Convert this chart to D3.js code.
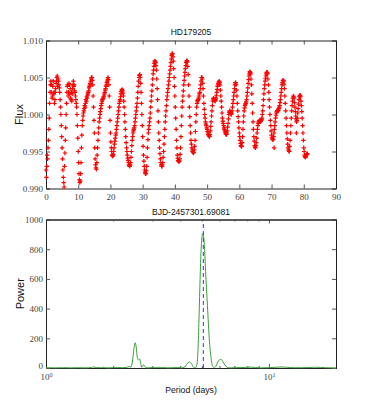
<!DOCTYPE html>
<html lang="en">
<head>
<meta charset="utf-8">
<title>HD179205</title>
<script src="https://d3js.org/d3.v7.min.js"></script>
<style>
    body { margin: 0; background: #fff; }
    .tick text { font-family: "Liberation Serif", serif; font-size: 9px; fill: #444; }
    .lbl { font-family: "Liberation Sans", sans-serif; fill: #111; }
</style>
</head>
<body>
<script>
// light curve: one row per day, a sample every 0.125 d
const fluxByDay = [
    [0.9925, 0.9915, 0.9930, 0.9945, 0.9940, 0.9955, 0.9965, 0.9980],
    [0.9995, 1.0015, 1.0030, 1.0040, 1.0045, 1.0030, 1.0040, 1.0022],
    [1.0025, 1.0038, 1.0045, 1.0028, 1.0030, 1.0015, 1.0020, 1.0030],
    [1.0035, 1.0042, 1.0045, 1.0050, 1.0052, 1.0038, 1.0048, 1.0045],
    [1.0040, 1.0036, 1.0030, 1.0020, 1.0010, 1.0000, 0.9985, 0.9970],
    [0.9955, 0.9940, 0.9925, 0.9915, 0.9908, 0.9902, 0.9930, 0.9948],
    [0.9965, 0.9982, 1.0000, 1.0015, 1.0030, 1.0038, 1.0040, 1.0025],
    [1.0030, 1.0042, 1.0040, 1.0028, 1.0035, 1.0022, 1.0020, 1.0030],
    [1.0018, 1.0028, 1.0035, 1.0040, 1.0045, 1.0038, 1.0040, 1.0032],
    [1.0030, 1.0025, 1.0020, 1.0015, 1.0010, 1.0000, 0.9985, 0.9968],
    [0.9950, 0.9935, 0.9920, 0.9912, 0.9908, 0.9910, 0.9920, 0.9935],
    [0.9955, 0.9972, 0.9985, 0.9992, 0.9998, 1.0002, 1.0005, 1.0008],
    [1.0012, 1.0010, 1.0015, 1.0020, 1.0018, 1.0024, 1.0022, 1.0026],
    [1.0028, 1.0030, 1.0032, 1.0036, 1.0038, 1.0040, 1.0042, 1.0045],
    [1.0048, 1.0050, 1.0050, 1.0046, 1.0040, 1.0025, 1.0010, 0.9992],
    [0.9975, 0.9955, 0.9940, 0.9932, 0.9928, 0.9926, 0.9935, 0.9945],
    [0.9955, 0.9965, 0.9975, 0.9982, 0.9990, 0.9995, 1.0000, 1.0004],
    [1.0008, 1.0012, 1.0015, 1.0018, 1.0020, 1.0021, 1.0022, 1.0024],
    [1.0025, 1.0028, 1.0030, 1.0033, 1.0035, 1.0038, 1.0040, 1.0043],
    [1.0045, 1.0048, 1.0050, 1.0047, 1.0040, 1.0025, 1.0010, 0.9992],
    [0.9975, 0.9963, 0.9955, 0.9950, 0.9945, 0.9944, 0.9944, 0.9946],
    [0.9950, 0.9955, 0.9960, 0.9964, 0.9968, 0.9972, 0.9975, 0.9980],
    [0.9985, 0.9990, 0.9995, 1.0000, 1.0005, 1.0010, 1.0015, 1.0018],
    [1.0020, 1.0024, 1.0028, 1.0031, 1.0033, 1.0034, 1.0032, 1.0029],
    [1.0025, 1.0018, 1.0010, 1.0000, 0.9990, 0.9980, 0.9970, 0.9962],
    [0.9955, 0.9950, 0.9945, 0.9941, 0.9938, 0.9935, 0.9932, 0.9931],
    [0.9930, 0.9932, 0.9935, 0.9942, 0.9950, 0.9958, 0.9965, 0.9970],
    [0.9975, 0.9978, 0.9980, 0.9982, 0.9985, 0.9990, 0.9995, 1.0000],
    [1.0005, 1.0010, 1.0015, 1.0022, 1.0030, 1.0038, 1.0045, 1.0050],
    [1.0053, 1.0054, 1.0050, 1.0042, 1.0030, 1.0015, 1.0000, 0.9985],
    [0.9970, 0.9957, 0.9945, 0.9937, 0.9930, 0.9925, 0.9922, 0.9920],
    [0.9920, 0.9924, 0.9930, 0.9942, 0.9955, 0.9966, 0.9975, 0.9980],
    [0.9985, 0.9990, 0.9995, 1.0002, 1.0010, 1.0018, 1.0025, 1.0032],
    [1.0040, 1.0048, 1.0055, 1.0060, 1.0065, 1.0069, 1.0072, 1.0072],
    [1.0070, 1.0066, 1.0060, 1.0048, 1.0035, 1.0020, 1.0005, 0.9990],
    [0.9975, 0.9965, 0.9955, 0.9947, 0.9940, 0.9935, 0.9932, 0.9930],
    [0.9930, 0.9932, 0.9935, 0.9942, 0.9950, 0.9960, 0.9970, 0.9980],
    [0.9990, 0.9998, 1.0005, 1.0012, 1.0020, 1.0025, 1.0030, 1.0035],
    [1.0040, 1.0045, 1.0050, 1.0055, 1.0060, 1.0065, 1.0070, 1.0075],
    [1.0080, 1.0082, 1.0082, 1.0078, 1.0072, 1.0062, 1.0050, 1.0038],
    [1.0025, 1.0010, 0.9995, 0.9980, 0.9965, 0.9955, 0.9945, 0.9941],
    [0.9938, 0.9937, 0.9936, 0.9937, 0.9940, 0.9946, 0.9955, 0.9970],
    [0.9985, 0.9998, 1.0010, 1.0018, 1.0025, 1.0032, 1.0040, 1.0046],
    [1.0052, 1.0057, 1.0062, 1.0066, 1.0070, 1.0072, 1.0073, 1.0071],
    [1.0065, 1.0054, 1.0040, 1.0025, 1.0010, 0.9997, 0.9985, 0.9975],
    [0.9965, 0.9960, 0.9955, 0.9952, 0.9950, 0.9949, 0.9948, 0.9949],
    [0.9952, 0.9957, 0.9965, 0.9977, 0.9990, 1.0000, 1.0010, 1.0015],
    [1.0018, 1.0019, 1.0020, 1.0022, 1.0025, 1.0028, 1.0030, 1.0035],
    [1.0040, 1.0045, 1.0050, 1.0050, 1.0048, 1.0042, 1.0035, 1.0025],
    [1.0015, 1.0007, 1.0000, 0.9995, 0.9990, 0.9987, 0.9985, 0.9982],
    [0.9980, 0.9977, 0.9975, 0.9973, 0.9972, 0.9971, 0.9970, 0.9973],
    [0.9978, 0.9984, 0.9990, 0.9998, 1.0005, 1.0012, 1.0018, 1.0021],
    [1.0022, 1.0021, 1.0020, 1.0019, 1.0018, 1.0020, 1.0022, 1.0026],
    [1.0030, 1.0034, 1.0038, 1.0040, 1.0042, 1.0044, 1.0045, 1.0043],
    [1.0040, 1.0033, 1.0025, 1.0018, 1.0010, 1.0002, 0.9995, 0.9991],
    [0.9988, 0.9985, 0.9982, 0.9980, 0.9978, 0.9976, 0.9974, 0.9973],
    [0.9973, 0.9975, 0.9978, 0.9983, 0.9988, 0.9994, 1.0000, 1.0003],
    [1.0005, 1.0004, 1.0002, 1.0001, 1.0000, 1.0002, 1.0005, 1.0010],
    [1.0015, 1.0020, 1.0025, 1.0030, 1.0035, 1.0040, 1.0043, 1.0043],
    [1.0040, 1.0033, 1.0025, 1.0015, 1.0005, 0.9997, 0.9990, 0.9982],
    [0.9975, 0.9970, 0.9965, 0.9961, 0.9958, 0.9957, 0.9957, 0.9962],
    [0.9970, 0.9980, 0.9990, 0.9998, 1.0005, 1.0009, 1.0012, 1.0014],
    [1.0015, 1.0017, 1.0020, 1.0025, 1.0030, 1.0036, 1.0042, 1.0047],
    [1.0052, 1.0055, 1.0058, 1.0057, 1.0055, 1.0048, 1.0040, 1.0028],
    [1.0015, 1.0002, 0.9990, 0.9980, 0.9970, 0.9964, 0.9958, 0.9956],
    [0.9955, 0.9958, 0.9962, 0.9968, 0.9975, 0.9980, 0.9985, 0.9988],
    [0.9990, 0.9991, 0.9992, 0.9991, 0.9990, 0.9991, 0.9992, 0.9993],
    [0.9995, 1.0000, 1.0005, 1.0012, 1.0020, 1.0028, 1.0035, 1.0040],
    [1.0045, 1.0049, 1.0052, 1.0055, 1.0057, 1.0057, 1.0055, 1.0048],
    [1.0040, 1.0030, 1.0020, 1.0010, 1.0000, 0.9992, 0.9985, 0.9978],
    [0.9972, 0.9969, 0.9967, 0.9966, 0.9966, 0.9970, 0.9975, 0.9980],
    [0.9985, 0.9990, 0.9995, 0.9999, 1.0002, 1.0004, 1.0005, 1.0005],
    [1.0005, 1.0006, 1.0008, 1.0010, 1.0012, 1.0016, 1.0020, 1.0025],
    [1.0030, 1.0035, 1.0040, 1.0043, 1.0046, 1.0046, 1.0045, 1.0041],
    [1.0035, 1.0025, 1.0015, 1.0005, 0.9995, 0.9985, 0.9975, 0.9967],
    [0.9960, 0.9955, 0.9952, 0.9951, 0.9950, 0.9957, 0.9965, 0.9975],
    [0.9985, 0.9995, 1.0005, 1.0012, 1.0018, 1.0022, 1.0025, 1.0024],
    [1.0022, 1.0016, 1.0010, 1.0004, 0.9998, 0.9994, 0.9990, 0.9992],
    [0.9995, 1.0002, 1.0008, 1.0014, 1.0020, 1.0024, 1.0026, 1.0026],
    [1.0024, 1.0018, 1.0012, 1.0004, 0.9995, 0.9985, 0.9975, 0.9965],
    [0.9955, 0.9950, 0.9945, 0.9943, 0.9942, 0.9943, 0.9945, 0.9946],
    [0.9946, 0.9947]
];
// a few stray points
const strayDays = [70.8, 77.7];
const strayFlux = [0.9955, 0.9975];

// periodogram
const period = [1.00, 1.10, 1.20, 1.30, 1.40, 1.50, 1.60, 1.64, 1.68, 1.75, 1.80, 1.85, 1.90, 2.00,
    2.10, 2.20, 2.30, 2.36, 2.40, 2.44, 2.48, 2.51, 2.54, 2.57, 2.60, 2.63, 2.66, 2.69, 2.72,
    2.75, 2.78, 2.82, 2.90, 3.00, 3.10, 3.20, 3.30, 3.40, 3.50, 3.70, 3.90, 4.05, 4.20, 4.30,
    4.40, 4.50, 4.60, 4.68, 4.75, 4.80, 4.85, 4.90, 4.95, 5.00, 5.05, 5.10, 5.15, 5.20, 5.30,
    5.40, 5.50, 5.60, 5.70, 5.80, 5.90, 6.00, 6.10, 6.20, 6.35, 6.50, 6.70, 7.00, 7.50, 8.00,
    8.30, 8.70, 9.20, 10.0, 11.0, 11.5, 12.0, 13.0, 14.0, 15.0, 16.0, 17.0, 18.0, 19.0, 20.0];
const power = [2, 1, 2, 1, 2, 1, 4, 7, 3, 2, 5, 2, 1, 2,
    3, 2, 4, 10, 6, 40, 130, 170, 140, 70, 55, 60, 30, 5, 18,
    20, 8, 2, 1, 3, 2, 5, 2, 3, 1, 2, 3, 1, 8, 30,
    40, 28, 5, 2, 20, 100, 300, 540, 750, 870, 905, 880, 790, 650, 420,
    200, 70, 10, 3, 15, 40, 55, 58, 45, 20, 5, 1, 2, 3, 5,
    6, 3, 1, 2, 6, 7, 5, 2, 2, 3, 5, 4, 2, 1, 1];
const bestPeriod = 5.08;

const dayTicks = [0, 10, 20, 30, 40, 50, 60, 70, 80, 90];
const fluxTicks = [0.990, 0.995, 1.000, 1.005, 1.010];
const powerTicks = [0, 200, 400, 600, 800, 1000];
const periodMajor = [1, 10];
const periodMinor = [2, 3, 4, 5, 6, 7, 8, 9, 20];

const lc = [];
fluxByDay.forEach((row, d) => row.forEach((f, j) => lc.push({t: d + j / 8, f: f})));
strayDays.forEach((t, i) => lc.push({t: t, f: strayFlux[i]}));

const W = 374, H = 409;
const left = 46, right = 336;
const top1 = 40.5, bot1 = 188.5, top2 = 219.5, bot2 = 368;

const svg = d3.select("body").append("svg")
    .attr("width", W).attr("height", H)
    .style("background-color", "#FFFFFF");

// ---------- light curve ----------
const x1 = d3.scaleLinear().domain([0, 90]).range([left, right]);
const y1 = d3.scaleLinear().domain([0.990, 1.010]).range([bot1, top1]);

const g1 = svg.append("g");
g1.append("g").attr("transform", `translate(0,${bot1})`)
    .call(d3.axisBottom(x1).tickValues(dayTicks).tickSize(-4).tickPadding(5).tickFormat(d3.format("d")));
g1.append("g").attr("transform", `translate(0,${top1})`)
    .call(d3.axisTop(x1).tickValues(dayTicks).tickSize(-4).tickFormat(""));
g1.append("g").attr("transform", `translate(${left},0)`)
    .call(d3.axisLeft(y1).tickValues(fluxTicks).tickSize(-4).tickPadding(3).tickFormat(d3.format(".3f")));
g1.append("g").attr("transform", `translate(${right},0)`)
    .call(d3.axisRight(y1).tickValues(fluxTicks).tickSize(-4).tickFormat(""));

g1.append("g").selectAll("path")
    .data(lc)
    .join("path")
    .attr("transform", d => `translate(${x1(d.t)},${y1(d.f)})`)
    .attr("d", "M-2.2,0H2.2M0,-2.2V2.2")
    .attr("stroke", "#ff0000")
    .attr("stroke-width", 1.2);

g1.append("text").attr("class", "lbl")
    .attr("x", (left + right) / 2).attr("y", 35)
    .attr("text-anchor", "middle").style("font-size", "8.5px")
    .text("HD179205");
g1.append("text").attr("class", "lbl")
    .attr("transform", `translate(23,${(top1 + bot1) / 2}) rotate(-90)`)
    .attr("text-anchor", "middle").style("font-size", "11px")
    .text("Flux");

// ---------- periodogram ----------
const x2 = d3.scaleLog().domain([1, 20]).range([left, right]);
const y2 = d3.scaleLinear().domain([0, 1000]).range([bot2, top2]);

const g2 = svg.append("g");
const sup = function(sel) {
    sel.selectAll(".tick text").each(function(d) {
        const t = d3.select(this).text("");
        t.append("tspan").text("10");
        t.append("tspan").attr("dy", "-0.5em").style("font-size", "6px").text(Math.round(Math.log10(d)));
    });
};
g2.append("g").attr("transform", `translate(0,${bot2})`)
    .call(d3.axisBottom(x2).tickValues(periodMajor).tickSize(-4).tickPadding(6))
    .call(sup);
g2.append("g").attr("transform", `translate(0,${bot2})`)
    .call(d3.axisBottom(x2).tickValues(periodMinor).tickSize(-2).tickFormat(""));
g2.append("g").attr("transform", `translate(0,${top2})`)
    .call(d3.axisTop(x2).tickValues(periodMajor).tickSize(-4).tickFormat(""));
g2.append("g").attr("transform", `translate(0,${top2})`)
    .call(d3.axisTop(x2).tickValues(periodMinor).tickSize(-2).tickFormat(""));
g2.append("g").attr("transform", `translate(${left},0)`)
    .call(d3.axisLeft(y2).tickValues(powerTicks).tickSize(-4).tickPadding(3).tickFormat(d3.format("d")))
    .call(s => s.selectAll(".tick text").filter(d => d === 0).attr("dy", "0.05em"));
g2.append("g").attr("transform", `translate(${right},0)`)
    .call(d3.axisRight(y2).tickValues(powerTicks).tickSize(-4).tickFormat(""));

const pg = period.map((p, i) => ({p: p, w: power[i]}));
g2.append("path")
    .datum(pg)
    .attr("fill", "none")
    .attr("stroke", "#3a9e3a")
    .attr("stroke-width", 1)
    .attr("d", d3.line().x(d => x2(d.p)).y(d => y2(d.w)).curve(d3.curveMonotoneX));

g2.append("line")
    .attr("x1", x2(bestPeriod)).attr("x2", x2(bestPeriod))
    .attr("y1", y2(0)).attr("y2", y2(1000))
    .attr("stroke", "#3333ee").attr("stroke-width", 1)
    .attr("stroke-dasharray", "4,3");

g2.append("text").attr("class", "lbl")
    .attr("x", (left + right) / 2).attr("y", 215)
    .attr("text-anchor", "middle").style("font-size", "8.5px")
    .text("BJD-2457301.69081");
g2.append("text").attr("class", "lbl")
    .attr("x", (left + right) / 2).attr("y", 393)
    .attr("text-anchor", "middle").style("font-size", "8.7px")
    .text("Period (days)");
g2.append("text").attr("class", "lbl")
    .attr("transform", `translate(24,${(top2 + bot2) / 2}) rotate(-90)`)
    .attr("text-anchor", "middle").style("font-size", "11px")
    .text("Power");

svg.selectAll(".domain").attr("stroke", "#222");
svg.selectAll(".tick line").attr("stroke", "#555");
</script>
</body>
</html>
